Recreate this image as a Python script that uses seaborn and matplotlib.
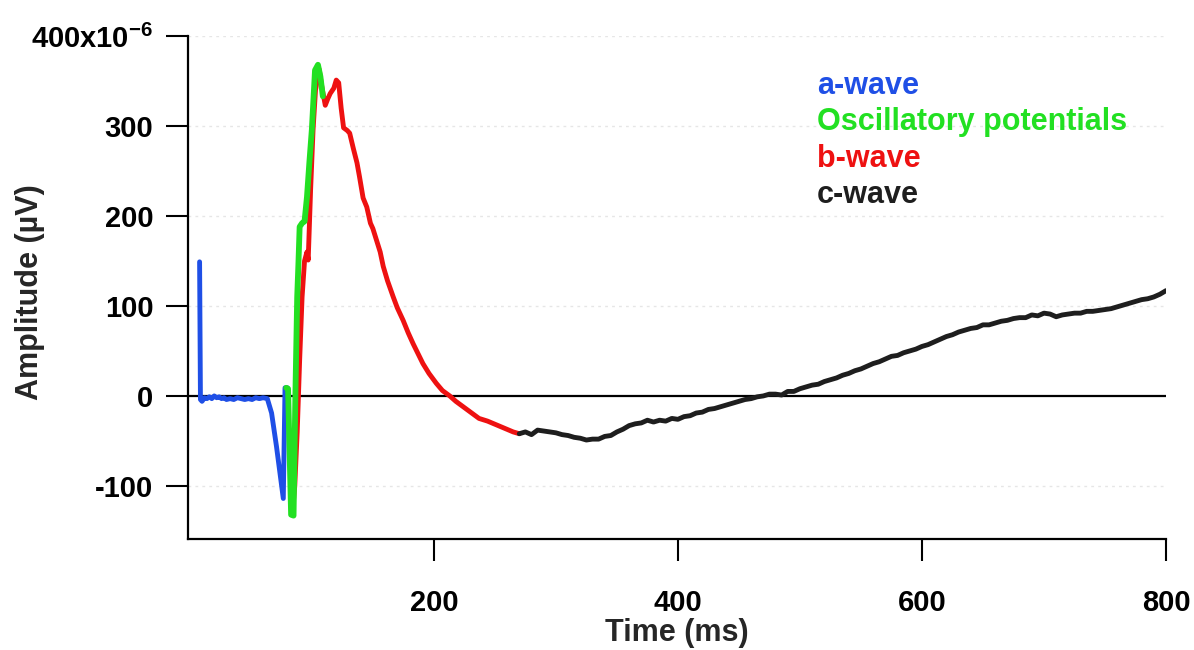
import matplotlib
matplotlib.use("Agg")
import matplotlib.pyplot as plt
import seaborn as sns
import pandas as pd
from matplotlib.lines import Line2D

# ---------------- data (time in ms, amplitude in µV) ----------------
a_time = [8, 8.7, 10, 12, 14, 16, 18, 20, 22, 24, 26, 28, 30, 33, 36, 39, 42, 45,
          48, 51, 54, 57, 60, 63.5, 67, 71, 76.6, 78, 80]
a_amp = [149, -4, -6, -2, -3, -1, -3, 0, -2, -1, -3, -2, -4, -3, -4, -2, -3, -4,
         -3, -4, -2, -3, -2, -3, -19, -56, -114, 9, 9]

op_time = [79, 80.5, 83, 85, 86.5, 88, 89, 90, 92, 94, 96, 98, 100, 102.6, 105, 107, 109]
op_amp = [9, 8, -132, -133, 0, 110, 147, 188, 192, 194, 221, 260, 296, 362, 368, 355, 333]

b_time = [84, 86, 88, 90, 92, 94, 96, 97, 99, 101, 103, 106, 108, 111, 113, 115, 118,
          120, 122, 124, 126, 129, 131, 134, 137, 139, 142, 145, 148, 150, 153, 156,
          158.5, 162, 166.7, 170, 174.8, 179, 183, 187, 191, 196, 202, 207, 213, 218,
          224, 230, 237, 244, 251, 258, 265, 270]
b_amp = [-132, -100, -40, 40, 110, 150, 160, 151, 230, 296, 340, 363, 345, 323, 330, 336,
         342, 351, 348, 320, 298, 295, 292, 275, 259, 244, 220, 210, 192, 186, 173, 160,
         144, 128, 110, 98, 84, 70, 58, 47, 36, 25, 14, 6, 0, -6, -12, -18, -25, -28,
         -32, -36, -40, -42]

c_time = list(range(270, 801, 5))
c_amp = [-42, -40, -43, -38, -39, -40, -41, -43, -44, -46, -47, -49, -48, -48, -45,
         -44, -40, -37, -33, -31, -30, -27, -29, -27, -28, -25, -26, -23, -22, -19,
         -18, -15, -14, -12, -10, -8, -6, -4, -3, -1, 0, 2, 2, 1, 5, 5, 8, 10,
         12, 13, 16, 18, 20, 23, 25, 28, 30, 33, 36, 38, 41, 44, 45, 48, 50, 52,
         55, 57, 60, 63, 66, 68, 71, 73, 75, 76, 79, 79, 81, 83, 84, 86, 87, 87,
         90, 89, 92, 91, 88, 90, 91, 92, 92, 94, 94, 95, 96, 97, 99, 101, 103,
         105, 107, 108, 110, 113, 117]

wave_names = ["a-wave", "Oscillatory potentials", "b-wave", "c-wave"]
wave_colors = ["#1f4fe6", "#22e022", "#ee1111", "#1e1e1e"]

y_ticks = [-100, 0, 100, 200, 300, 400]
y_ticklabels = ["-100", "0", "100", "200", "300", r"400x10$^{-6}$"]
x_ticks = [200, 400, 600, 800]
x_ticklabels = ["200", "400", "600", "800"]

# ---------------- style ----------------
sns.set_theme(style="white")
plt.rcParams["font.family"] = ["Liberation Sans", "DejaVu Sans"]
plt.rcParams["font.weight"] = "bold"
plt.rcParams["mathtext.fontset"] = "custom"
plt.rcParams["mathtext.rm"] = "Liberation Sans:bold"
plt.rcParams["mathtext.bf"] = "Liberation Sans:bold"
plt.rcParams["mathtext.default"] = "bf"
plt.rcParams["axes.unicode_minus"] = False

W, H = 1194, 650
fig = plt.figure(figsize=(W / 100, H / 100), dpi=100)
ax = fig.add_axes([188 / W, 1 - 539 / H, (1166 - 188) / W, (539 - 36) / H])

# faint dotted grid
for yv in [-100, 100, 200, 300, 400]:
    ax.axhline(yv, color="#e6e6e6", lw=1.0, ls=(0, (2, 3)), zorder=0)
ax.axhline(0, color="black", lw=1.6, zorder=1)

frames = {
    "a-wave": (a_time, a_amp, 3.5),
    "b-wave": (b_time, b_amp, 3.5),
    "Oscillatory potentials": (op_time, op_amp, 4.2),
    "c-wave": (c_time, c_amp, 3.5),
}
cmap = dict(zip(wave_names, wave_colors))
for name in ["a-wave", "b-wave", "Oscillatory potentials", "c-wave"]:
    t, v, lw = frames[name]
    df = pd.DataFrame({"time": t, "amp": v})
    sns.lineplot(data=df, x="time", y="amp", ax=ax, color=cmap[name], lw=lw,
                 sort=False, estimator=None, zorder=3)

ax.set_xlim(-1.5, 800)
ax.set_ylim(-159, 400)
ax.set_xticks(x_ticks)
ax.set_xticklabels(x_ticklabels)
ax.set_yticks(y_ticks)
ax.set_yticklabels(y_ticklabels)

for s in ["top", "right"]:
    ax.spines[s].set_visible(False)
for s in ["left", "bottom"]:
    ax.spines[s].set_color("black")
    ax.spines[s].set_linewidth(1.6)

ax.tick_params(axis="both", direction="out", length=16, width=1.5, colors="black",
               labelsize=21)
ax.tick_params(axis="x", pad=20, bottom=True)
ax.tick_params(axis="y", pad=9, left=True)
for lab in ax.get_xticklabels() + ax.get_yticklabels():
    lab.set_fontweight("bold")

ax.set_xlabel("Time (ms)", fontsize=22, fontweight="bold")
ax.set_ylabel("Amplitude (µV)", fontsize=22, fontweight="bold")
ax.xaxis.set_label_coords(0.5, -(633 - 539) / 503, transform=ax.transAxes)
ax.yaxis.set_label_coords(-(188 - 30) / 978, (539 - 292) / 503, transform=ax.transAxes)
ax.xaxis.label.set_va("center")
ax.yaxis.label.set_va("center")

handles = [Line2D([], [], color=c, lw=0) for c in wave_colors]
leg = fig.legend(handles, wave_names, loc="upper left",
                 bbox_to_anchor=(817 / W, 1 - 71 / H), frameon=False,
                 handlelength=0, handletextpad=0, borderpad=0, borderaxespad=0,
                 labelspacing=0.21, labelcolor="linecolor",
                 prop={"family": "Liberation Sans", "weight": "bold", "size": 22})

fig.savefig("out.png", dpi=100, facecolor="white")
